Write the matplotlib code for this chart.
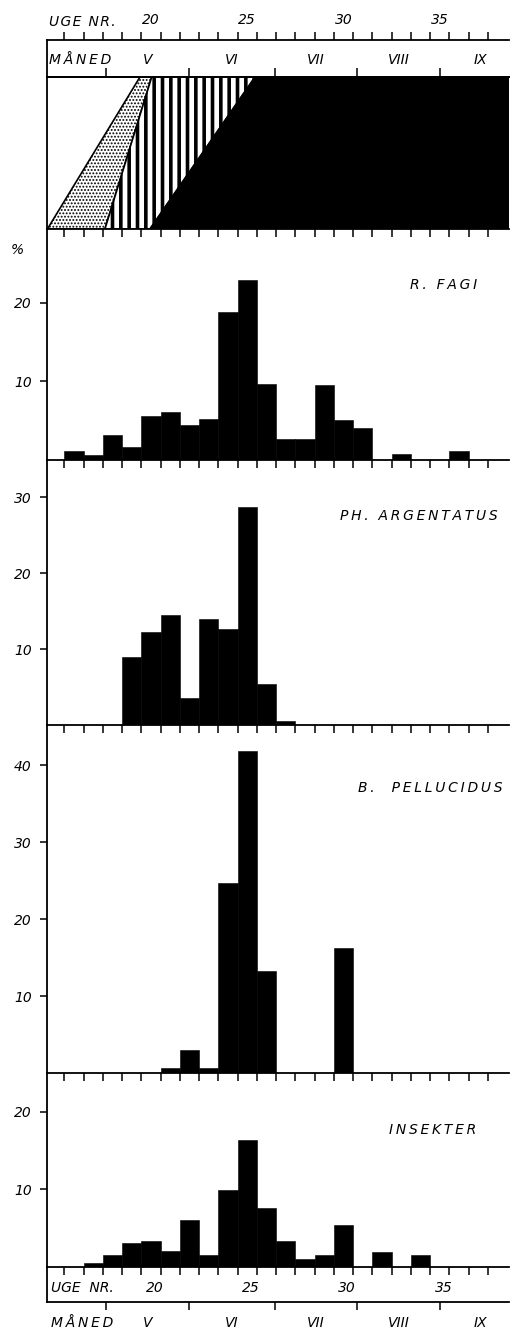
import matplotlib.pyplot as plt

plt.rcParams['font.family'] = ['DejaVu Sans']
plt.rcParams['font.style'] = 'italic'
plt.rcParams['font.size'] = 10

# week numbers (bars centred on the week number)
weeks = list(range(15, 39))

r_fagi = [0, 1.2, 0.7, 3.2, 1.7, 5.6, 6.1, 4.4, 5.2, 18.9, 22.9, 9.7,
          2.7, 2.7, 9.6, 5.1, 4.1, 0, 0.8, 0, 0, 1.1, 0, 0]
ph_argentatus = [0, 0, 0, 0, 9.0, 12.2, 14.5, 3.6, 13.9, 12.7, 28.7, 5.4,
                 0.5, 0, 0, 0, 0, 0, 0, 0, 0, 0, 0, 0]
b_pellucidus = [0, 0, 0, 0, 0, 0, 0.7, 3.0, 0.7, 24.7, 41.8, 13.3,
                0, 0, 0, 16.3, 0, 0, 0, 0, 0, 0, 0, 0]
insekter = [0, 0, 0.55, 1.5, 3.1, 3.4, 2.1, 6.0, 1.5, 9.9, 16.4, 7.6,
            3.3, 1.0, 1.5, 5.4, 0, 1.9, 0, 1.5, 0, 0, 0, 0]

week_labels = [20, 25, 30, 35]
month_edges = [17.67, 21.98, 26.45, 30.71, 35.02]
month_names = ['V', 'VI', 'VII', 'VIII', 'IX']
month_end = 39.2

# phenology strip (fraction of the strip height 0..1)
stipple_x = [14.62, 17.61, 20.04, 19.43]
hatch_x = [17.61, 19.95, 25.41, 20.04]
black_x = [19.95, 38.6, 38.6, 25.41]
strip_y = [0, 0, 1, 1]

W, H = 511, 1337
X0, X1 = 47, 509
XLIM = (14.6, 38.6)
LW = 1.3
week_edges = [w + 0.5 for w in weeks[:-1]]
month_pos = [(a + b) / 2 for a, b in zip(month_edges, month_edges[1:] + [month_end])]


def spaced(s, sep='\u2009'):
    return sep.join(s)


fig = plt.figure(figsize=(W / 100, H / 100), dpi=100)


def band(top, bottom):
    ax = fig.add_axes([X0 / W, 1 - bottom / H, (X1 - X0) / W, (bottom - top) / H])
    ax.set_xlim(*XLIM)
    ax.patch.set_visible(False)
    for s in ax.spines.values():
        s.set_linewidth(LW)
    ax.spines['right'].set_visible(False)
    ax.spines['top'].set_visible(False)
    ax.set_xticks(week_edges)
    ax.tick_params(axis='x', direction='out', length=5.5, width=1.1,
                   labelbottom=False)
    ax.set_yticks([])
    return ax


# header: week numbers and months
ax_head = band(40, 77)
ax_head.spines['top'].set_visible(True)
ax_head.spines['bottom'].set_visible(True)
ax_head.tick_params(axis='x', which='major', top=True, bottom=False,
                    direction='out', length=6)
ax_head.set_xticks(week_labels, [str(w) for w in week_labels], minor=True)
ax_head.tick_params(axis='x', which='minor', top=True, bottom=False,
                    labeltop=True, labelbottom=False, length=0, pad=9)
ax_head.text(14.68, 1.49, spaced('UGE NR.', '\u200a'),
             transform=ax_head.get_xaxis_transform(), ha='left', va='center')
ax_head.text(14.68, 0.46, spaced('MÅNED'), transform=ax_head.get_xaxis_transform(),
             ha='left', va='center')
for m, name in zip(month_pos, month_names):
    ax_head.text(m, 0.46, name, transform=ax_head.get_xaxis_transform(),
                 ha='center', va='center')

ax_shade = band(77, 229)
ax_shade.set_ylim(0, 1)
ax_shade.spines['top'].set_visible(True)
with plt.rc_context({'hatch.linewidth': 0.9}):
    ax_shade.fill(stipple_x, strip_y, facecolor='white', edgecolor='black',
                  hatch='.....', linewidth=1.2)
with plt.rc_context({'hatch.linewidth': 2.6}):
    ax_shade.fill(hatch_x, strip_y, facecolor='white', edgecolor='black',
                  hatch='||', linewidth=1.2)
ax_shade.fill(black_x, strip_y, facecolor='black', edgecolor='black', linewidth=1.2)
sec = ax_shade.secondary_xaxis('top')
sec.set_xticks(month_edges)
sec.tick_params(direction='out', length=6.5, width=1.1, labeltop=False)
sec.spines['top'].set_linewidth(LW)

panels = [
    (229, 460, 29.4, [10, 20], r_fagi, 'R. FAGI', 0.859, 0.758),
    (460, 725, 34.9, [10, 20, 30], ph_argentatus, 'PH. ARGENTATUS', 0.805, 0.789),
    (725, 1073, 45.2, [10, 20, 30, 40], b_pellucidus, 'B.  PELLUCIDUS', 0.829, 0.819),
    (1073, 1267, 25.0, [10, 20], insekter, 'INSEKTER', 0.835, 0.706),
]

for top, bottom, ymax, yt, vals, name, tx, ty in panels:
    ax = band(top, bottom)
    ax.set_ylim(0, ymax)
    ax.bar(weeks, vals, width=1.0, color='black', edgecolor='black', linewidth=0.4)
    ax.set_yticks(yt, [str(v) for v in yt])
    ax.tick_params(axis='y', direction='out', length=5, width=1.1, pad=6)
    ax.text(tx, ty, spaced(name), transform=ax.transAxes,
            ha='center', va='center')
    if name.startswith('R.'):
        ax.text(-0.065, 0.909, '%', transform=ax.transAxes, ha='center', va='center')

# footer
ax_foot = band(1267, 1302)
ax_foot.spines['bottom'].set_visible(True)
ax_foot.set_xticks(month_edges)
ax_foot.tick_params(axis='x', direction='out', length=6, width=1.1)
ax_foot.text(14.82, 0.4, 'UGE  NR.', transform=ax_foot.get_xaxis_transform(),
             ha='left', va='center')
for w in week_labels:
    ax_foot.text(w + 0.2, 0.4, str(w), transform=ax_foot.get_xaxis_transform(),
                 ha='center', va='center')
ax_foot.text(14.82, -0.6, spaced('MÅNED'), transform=ax_foot.get_xaxis_transform(),
             ha='left', va='center')
for m, name in zip(month_pos, month_names):
    ax_foot.text(m, -0.6, name, transform=ax_foot.get_xaxis_transform(),
                 ha='center', va='center')

fig.savefig('out.png', dpi=100)
